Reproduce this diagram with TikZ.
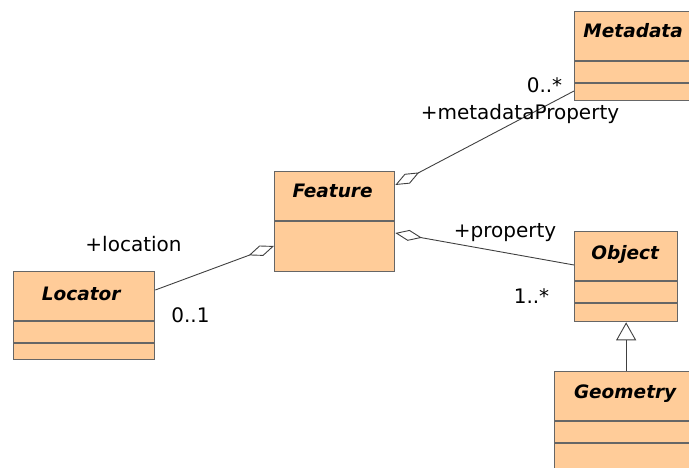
\documentclass[tikz,border=0pt]{standalone}
\usepackage{fontspec}
\setmainfont{DejaVu Sans}
\usetikzlibrary{arrows.meta,calc}
\definecolor{classfill}{HTML}{FFCC99}
\definecolor{classedge}{HTML}{666666}
\definecolor{wire}{HTML}{404040}
\begin{document}
\begin{tikzpicture}[x=1pt,y=-1pt,
  classbox/.style={draw=classedge, line width=1.3pt, fill=classfill, rectangle,
                   inner sep=0pt, anchor=north west},
  divider/.style={draw=classedge, line width=1.3pt},
  classname/.style={font=\fontsize{18.5}{22}\selectfont\bfseries\itshape,
                    anchor=base, inner sep=0pt},
  rolelabel/.style={font=\fontsize{20}{24}\selectfont, anchor=base, inner sep=0pt},
  wireline/.style={draw=wire, line width=0.9pt},
  aggr/.style={wireline, {Diamond[open, length=27pt, width=11pt]}-},
  inherit/.style={wireline, -{Triangle[open, length=18pt, width=20pt]}}]

\clip (0,0) rectangle (689,468);

% class boxes
\node[classbox, minimum width=117pt, minimum height=89pt]  (meta) at (574,11)  {};
\node[classbox, minimum width=120pt, minimum height=100pt] (feat) at (274,171) {};
\node[classbox, minimum width=141pt, minimum height=88pt]  (loc)  at (13,271)  {};
\node[classbox, minimum width=103pt, minimum height=90pt]  (obj)  at (574,231) {};
\node[classbox, minimum width=141pt, minimum height=110pt] (geom) at (554,371) {};

% compartment lines
\foreach \b in {meta,loc,obj,geom}{
  \draw[divider] ([yshift=-50pt]\b.north west) -- ([yshift=-50pt]\b.north east);
  \draw[divider] ([yshift=-72pt]\b.north west) -- ([yshift=-72pt]\b.north east);
}
\draw[divider] ([yshift=-50pt]feat.north west) -- ([yshift=-50pt]feat.north east);

% class names
\node[classname] (metaT) at ($(meta.north)+(0,26.5)$) {Metadata};
\node[classname] (featT) at ($(feat.north)+(-2,27)$)  {Feature};
\node[classname] (locT)  at ($(loc.north)+(-3,29)$)   {Locator};
\node[classname] (objT)  at ($(obj.north)+(-1,29)$)   {Object};
\node[classname] (geomT) at ($(geom.north)+(0,27)$)   {Geometry};

% associations
\draw[aggr] ([yshift=-14pt]feat.north east) -- ([yshift=-80pt]meta.north west);
\draw[aggr] ([yshift=-62pt]feat.north east) -- ([yshift=-34pt]obj.north west);
\draw[aggr] ([yshift=-75pt]feat.north west) -- ([yshift=-19pt]loc.north east);
\draw[inherit] (geom.north -| obj.south) -- (obj.south);

% role names and multiplicities
\node[rolelabel] (mult1) at (544.5,93)  {0..*};
\node[rolelabel] (role1) at (520,120)   {+metadataProperty};
\node[rolelabel] (role2) at (505,238)   {+property};
\node[rolelabel] (mult2) at (531.5,303) {1..*};
\node[rolelabel] (role3) at (133.5,252) {+location};
\node[rolelabel] (mult3) at (190.5,322) {0..1};
\end{tikzpicture}
\end{document}
